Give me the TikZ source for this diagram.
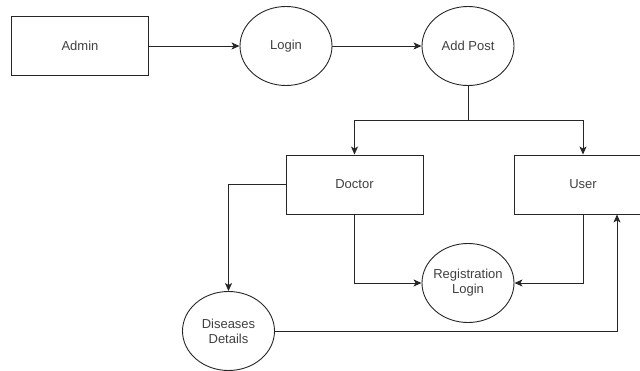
\documentclass[tikz,border=0pt]{standalone}
\usepackage{fontspec}
\setmainfont{Liberation Sans}
\usetikzlibrary{shapes,arrows.meta}

\begin{document}
\begin{tikzpicture}[x=1pt,y=-1pt,line width=0.9pt,font=\fontsize{13}{15}\selectfont,box/.style={draw=black!85, rectangle, minimum width=137pt, minimum height=59pt, text=black!75},oval/.style={draw=black!85, ellipse, minimum width=92pt, minimum height=79pt, inner xsep=-15pt, inner ysep=0pt, align=center, text=black!75},flow/.style={draw=black!85,-{Stealth[length=8pt,width=7pt,inset=2pt]}}]
\useasboundingbox (0,0) rectangle (640,371);
\node[box] (admin) at (80,46) {Admin};
\node[oval] (login) at (286,46) {Login};
\node[oval] (addpost) at (468,46) {Add Post};
\node[box] (doctor) at (354.5,184.5) {Doctor};
\node[box] (user) at (583,184.5) {User};
\node[oval] (reglogin) at (468,283) {Registration\\Login};
\node[oval] (diseases) at (228.5,331) {Diseases\\Details};
\coordinate (split) at (468,120);
\draw[flow] (admin) -- (login);
\draw[flow] (login) -- (addpost);
\draw[draw=black!85] (addpost) -- (split);
\draw[flow] (split) -| (doctor.north);
\draw[flow] (split) -| (user.north);
\draw[flow] (doctor.west) -| (diseases.north);
\draw[flow] (doctor.south) |- (reglogin.west);
\draw[flow] (user.south) |- (reglogin.east);
\draw[flow] (diseases.east) -| ([xshift=34pt]user.south);
\end{tikzpicture}
\end{document}
